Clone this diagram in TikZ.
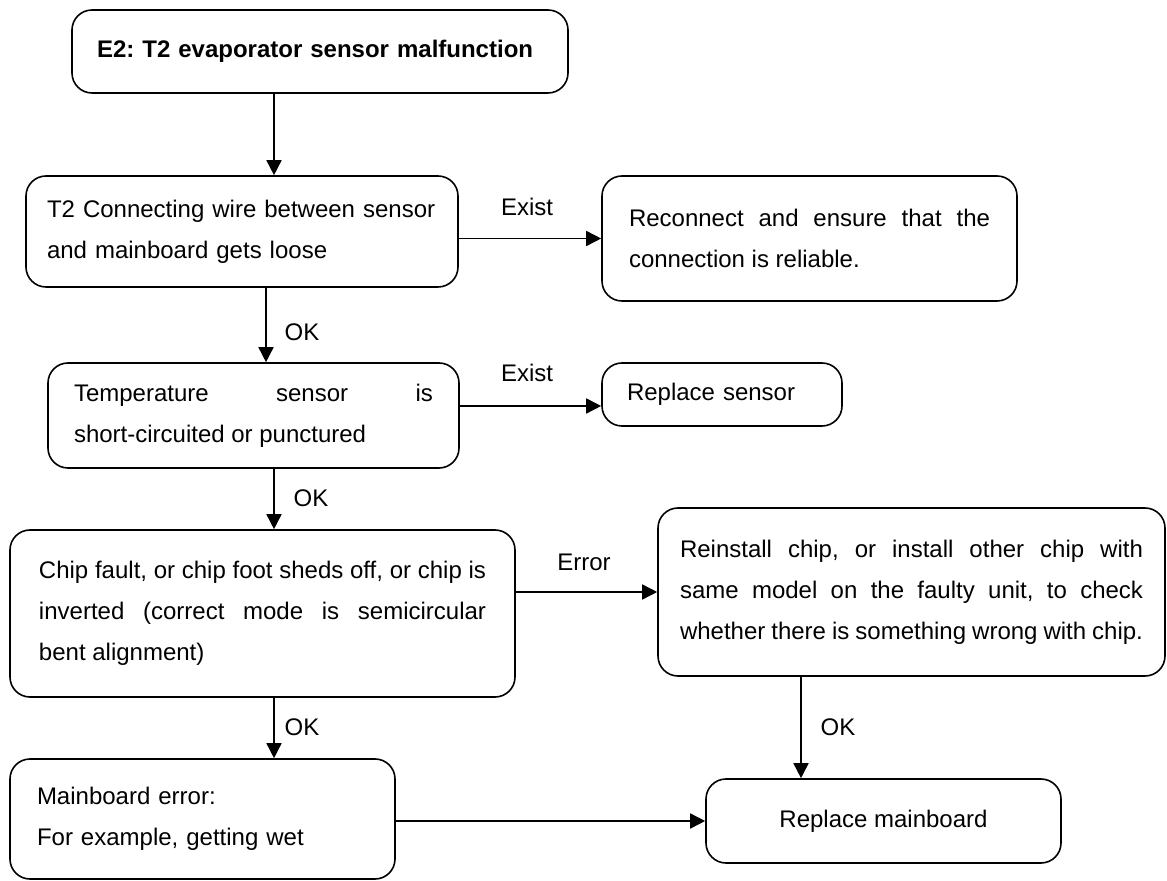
\documentclass[tikz,border=0pt]{standalone}
\usepackage{fontspec}
\setmainfont{Liberation Sans}
\usetikzlibrary{arrows.meta}
\frenchspacing

\begin{document}
\begin{tikzpicture}[
  x=0.5pt, y=-0.5pt,
  font=\fontsize{12}{20.5}\selectfont,
  box/.style={draw, line width=0.8pt, rounded corners=10pt, inner xsep=0pt, inner ysep=0pt},
  line/.style={draw, line width=0.8pt, -{Triangle[length=7.5pt, width=7.5pt]}},
  lbl/.style={inner sep=0pt}
]

\useasboundingbox (0,0) rectangle (1167,881);

% Top node
\node (title) [box, minimum width=248pt, minimum height=41.5pt, text width=223pt, align=left,
  font=\fontsize{12}{20.5}\selectfont\bfseries] at (320,51.5) {E2: T2 evaporator sensor malfunction};

% Checks down the left side
\node (wire) [box, minimum width=216pt, minimum height=55.5pt, text width=195pt, align=left] at (242,231.5)
  {T2 Connecting wire between sensor\\and mainboard gets loose};
\node (temp) [box, minimum width=205.5pt, minimum height=52.5pt, text width=179.5pt, align=justify] at (253.5,415.5)
  {Temperature sensor is\linebreak short-circuited or punctured};
\node (chip) [box, minimum width=252.5pt, minimum height=83.5pt, text width=223.5pt, align=justify] at (262.5,613.5)
  {Chip fault, or chip foot sheds off, or chip is\linebreak inverted (correct mode is semicircular\linebreak bent alignment)};
\node (mb) [box, minimum width=192.5pt, minimum height=60pt, text width=165.5pt, align=left] at (202.5,819)
  {Mainboard error:\\For example, getting wet};

% Actions on the right
\node (fix) [box, minimum width=207.5pt, minimum height=62.5pt, text width=180.5pt, align=justify] at (809.5,238.5)
  {Reconnect and ensure that the\linebreak connection is reliable.};
\node (sensor) [box, minimum width=120pt, minimum height=31.5pt, text width=95pt, align=left] at (722,394.5)
  {Replace sensor};
\node (reinstall) [box, minimum width=253.5pt, minimum height=84pt, text width=231.5pt, align=justify] at (911.5,592)
  {Reinstall chip, or install other chip with\linebreak same model on the faulty unit, to check\linebreak whether there is something wrong with chip.};
\node (replace) [box, minimum width=177.5pt, minimum height=42pt] at (883.5,821) {Replace mainboard};

% Labels
\node (exist1) [lbl] at (527,207) {Exist};
\node (exist2) [lbl] at (527,373) {Exist};
\node (error)  [lbl] at (584,562) {Error};
\node (ok1)    [lbl] at (302,332) {OK};
\node (ok2)    [lbl] at (311,498) {OK};
\node (ok3)    [lbl] at (302,727) {OK};
\node (ok4)    [lbl] at (838,727) {OK};

% Connections
\coordinate (spine)  at (274,0);
\coordinate (spineb) at (266,0);
\coordinate (spinec) at (801,0);
\coordinate (row2)   at (0,406);
\draw [line] (title.south -| spine) -- (wire.north -| spine);
\draw [line] (wire.east |- fix.west) -- (fix.west);
\draw [line] (wire.south -| spineb) -- (temp.north -| spineb);
\draw [line] (temp.east |- row2) -- (sensor.west |- row2);
\draw [line] (temp.south -| spine) -- (chip.north -| spine);
\draw [line] (chip.east |- reinstall.west) -- (reinstall.west);
\draw [line] (chip.south -| spine) -- (mb.north -| spine);
\draw [line] (reinstall.south -| spinec) -- (replace.north -| spinec);
\draw [line] (mb.east |- replace.west) -- (replace.west);

\end{tikzpicture}
\end{document}
